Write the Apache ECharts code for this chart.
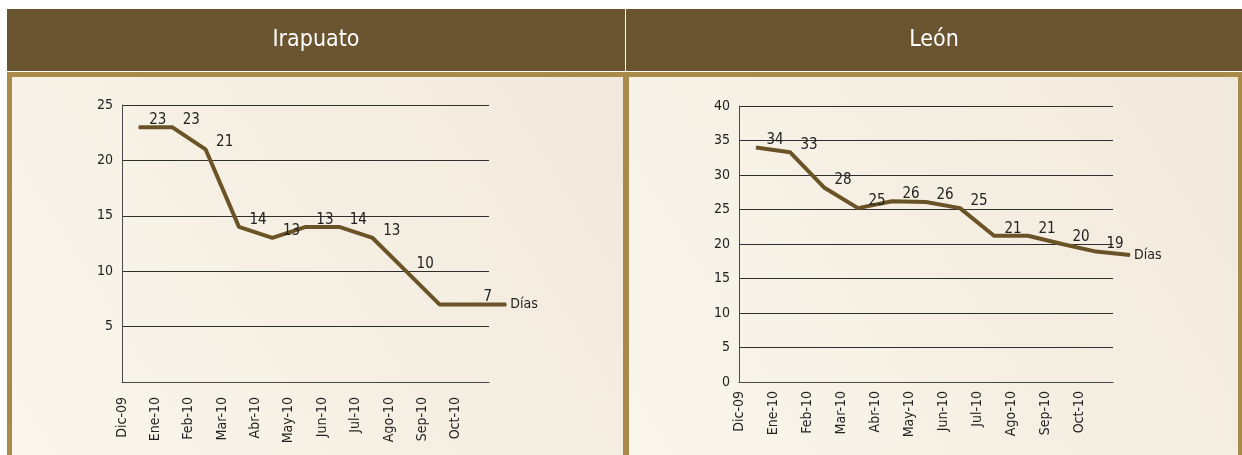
<!DOCTYPE html>
<html>
<head>
<meta charset="utf-8">
<script src="https://cdn.jsdelivr.net/npm/echarts@6/dist/echarts.min.js"></script>
<style>
  html, body { margin: 0; padding: 0; background: #fff; }
  #chart { width: 1242px; height: 455px; }
</style>
</head>
<body>
<div id="chart"></div>
<script>
// categories (last one has no visible tick label)
const months = ['Dic-09', 'Ene-10', 'Feb-10', 'Mar-10', 'Abr-10', 'May-10', 'Jun-10', 'Jul-10', 'Ago-10', 'Sep-10', 'Oct-10', 'Nov-10']

// Irapuato: días
const irapuatoDays = [23, 23, 21, 14, 13, 14, 14, 13, 10, 7, 7, 7]
const irapuatoLabels = ['23', '23', '21', '14', '13', '13', '14', '13', '10', '', '7', '']
const irapuatoTicks = [0, 25, 5]

// León
const leonDays = [34, 33.3, 28.2, 25.2, 26.2, 26.1, 25.2, 21.2, 21.2, 20, 18.9, 18.4]
const leonLabels = ['34', '33', '28', '25', '26', '26', '25', '21', '21', '20', '19', '']
const leonTicks = [0, 40, 5]

const font = '"Liberation Sans Narrow", "DejaVu Sans Condensed", sans-serif'
const lineColor = '#6b5328'

const chart = echarts.init(document.getElementById('chart'))

const plotBg = {
    type: 'linear', x: 0, y: 1, x2: 1, y2: 0,
    colorStops: [{ offset: 0, color: '#f9f5eb' }, { offset: 1, color: '#eee5d4' }]
}
const panelBg = {
    type: 'linear', x: 0, y: 1, x2: 1, y2: 0,
    colorStops: [{ offset: 0, color: '#faf6ec' }, { offset: 1, color: '#f1e9db' }]
}

const visibleX = (gridIndex, margin) => ({
    gridIndex: gridIndex,
    type: 'category',
    data: months,
    boundaryGap: false,
    axisLine: { lineStyle: { color: '#4a4a4a', width: 1 } },
    axisTick: { show: false },
    axisLabel: {
        rotate: 90, margin: margin, interval: 0,
        color: '#222', fontFamily: font, fontSize: 14,
        formatter: (v, i) => i < months.length - 1 ? v : ''
    }
})
const hiddenX = (gridIndex) => ({
    gridIndex: gridIndex, type: 'category', data: months, boundaryGap: true, show: false
})
const visibleY = (gridIndex, ticks, showZero) => ({
    gridIndex: gridIndex,
    type: 'value',
    min: ticks[0], max: ticks[1], interval: ticks[2],
    axisLine: { show: true, lineStyle: { color: '#4a4a4a', width: 1 } },
    axisTick: { show: false },
    splitLine: { lineStyle: { color: '#2e2e2e', width: 1 } },
    axisLabel: { margin: 9, color: '#222', fontFamily: font, fontSize: 14, showMinLabel: showZero }
})
const hiddenY = (gridIndex, ticks) => ({
    gridIndex: gridIndex, type: 'value', min: ticks[0], max: ticks[1], show: false
})
const daysSeries = (axisIndex, values, labels) => ({
    type: 'line',
    xAxisIndex: axisIndex, yAxisIndex: axisIndex,
    data: values,
    symbol: 'circle',
    symbolSize: 1,
    showSymbol: true,
    itemStyle: { color: lineColor },
    lineStyle: { color: lineColor, width: 4 },
    label: {
        show: true, position: 'right', distance: 10, offset: [0, -7],
        color: '#222', fontFamily: font, fontSize: 15,
        formatter: p => labels[p.dataIndex]
    },
    endLabel: {
        show: true, formatter: 'Días', distance: 4,
        color: '#222', fontFamily: font, fontSize: 14
    },
    animation: false
})

chart.setOption({
    animation: false,
    graphic: [
        { type: 'rect', shape: { x: 7, y: 9, width: 1235, height: 62 }, style: { fill: '#6b5430' } },
        { type: 'rect', shape: { x: 625, y: 9, width: 1, height: 62 }, style: { fill: '#fff' } },
        { type: 'rect', shape: { x: 7, y: 72, width: 1235, height: 383 }, style: { fill: '#a98a4b' } },
        { type: 'rect', shape: { x: 12, y: 77, width: 611, height: 378 }, style: { fill: panelBg } },
        { type: 'rect', shape: { x: 629, y: 77, width: 609, height: 378 }, style: { fill: panelBg } },
        {
            type: 'text', x: 316, y: 40,
            style: { text: 'Irapuato', fill: '#fff', font: '23px ' + font, align: 'center', verticalAlign: 'middle' }
        },
        {
            type: 'text', x: 934, y: 40,
            style: { text: 'León', fill: '#fff', font: '23px ' + font, align: 'center', verticalAlign: 'middle' }
        }
    ],
    grid: [
        { left: 122, top: 105, width: 367, height: 277, show: true, backgroundColor: plotBg, borderWidth: 0 },
        { left: 122, top: 105, width: 401, height: 277 },
        { left: 739, top: 106, width: 374, height: 276, show: true, backgroundColor: plotBg, borderWidth: 0 },
        { left: 739, top: 106, width: 408, height: 276 }
    ],
    xAxis: [visibleX(0, 15), hiddenX(1), visibleX(2, 9), hiddenX(3)],
    yAxis: [visibleY(0, irapuatoTicks, false), hiddenY(1, irapuatoTicks), visibleY(2, leonTicks, true), hiddenY(3, leonTicks)],
    series: [
        daysSeries(1, irapuatoDays, irapuatoLabels),
        daysSeries(3, leonDays, leonLabels)
    ]
})
</script>
</body>
</html>
